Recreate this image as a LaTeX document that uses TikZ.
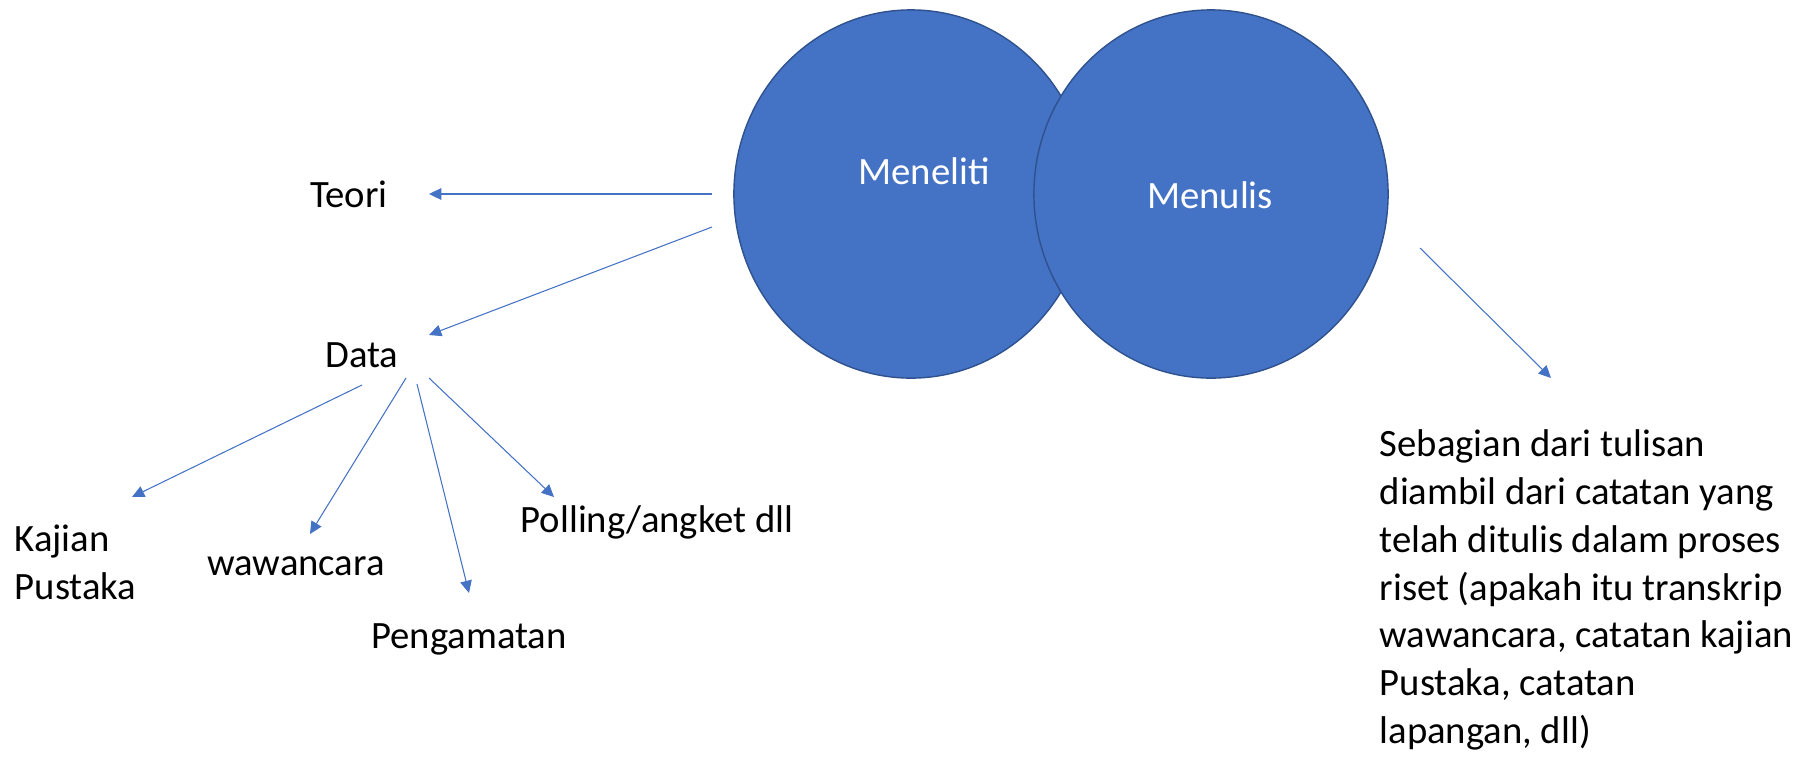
\documentclass[tikz,border=0pt]{standalone}
\usepackage{fontspec}
\setmainfont{Carlito}
\usepackage{tikz}
\usetikzlibrary{arrows.meta,shapes.geometric}
\definecolor{offblue}{HTML}{4472C4}
\definecolor{offedge}{HTML}{2F528F}

\begin{document}
\begin{tikzpicture}[x=0.01cm, y=-0.01cm,
        circ/.style={shape=ellipse, fill=offblue, draw=offedge, line width=0.4pt, minimum width=3.54cm, minimum height=3.68cm, inner sep=0pt},
        txt/.style={font=\fontsize{11}{13.6}\selectfont, inner sep=0pt, anchor=base},
        arr/.style={color=offblue, line width=0.3pt, -{Triangle[length=3.5pt,width=3.3pt]}}]
        \useasboundingbox (0,0) rectangle (1817,760);
        \node[circ] (M1) at (911,194) {};
        \node[circ] (M2) at (1211,194) {};
        \node[txt,text=white] (L1) at (924,184) {Meneliti};
        \node[txt,text=white] (L2) at (1210,208) {Menulis};
        \node[txt] (T) at (349,207) {Teori};
        \node[txt] (D) at (362,367) {Data};
        \node[txt,anchor=north west,align=left] (K) at (14,524) {Kajian\\Pustaka};
        \node[txt] (W) at (296,575) {wawancara};
        \node[txt] (P) at (469,648) {Pengamatan};
        \node[txt] (Pl) at (657,532) {Polling/angket dll};
        \node[txt,anchor=north west,align=left] (S) at (1379,429) {Sebagian dari tulisan\\diambil dari catatan yang\\telah ditulis dalam proses\\riset (apakah itu transkrip\\wawancara, catatan kajian\\Pustaka, catatan\\lapangan, dll)};
    
        \draw [arr] ([shift={(-199,0)}]M1.center) -- ([shift={(80,-13)}]T.base);
        \draw [arr] ([shift={(-199,33)}]M1.center) -- ([shift={(67,-32)}]D.base);
        \draw [arr] ([shift={(0,18)}]D.base) -- ([shift={(118,-27)}]K.north west);
        \draw [arr] ([shift={(44,11)}]D.base) -- ([shift={(14,-41)}]W.base);
        \draw [arr] ([shift={(55,17)}]D.base) -- ([shift={(0,-55)}]P.base);
        \draw [arr] ([shift={(67,11)}]D.base) -- ([shift={(-103,-35)}]Pl.base);
        \draw [arr] ([shift={(209,54)}]M2.center) -- ([shift={(172,-51)}]S.north west);
    \end{tikzpicture}
\end{document}
